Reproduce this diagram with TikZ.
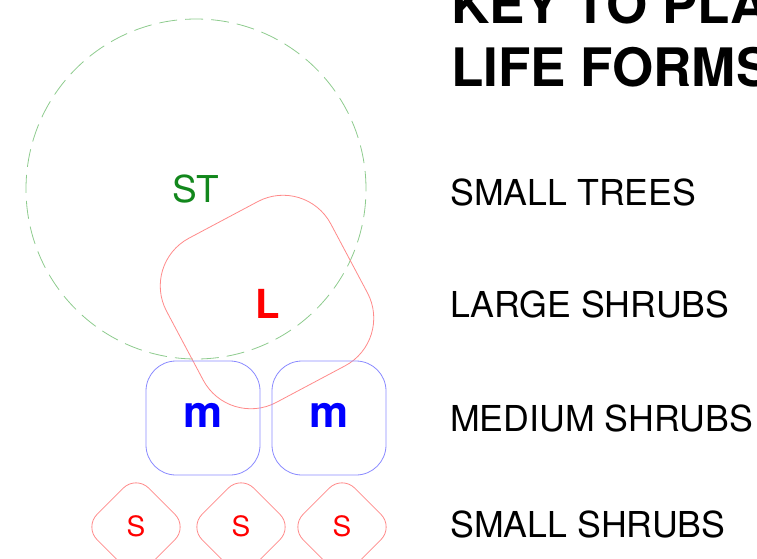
\documentclass[tikz,border=0pt]{standalone}
\usepackage{fontspec}
\setmainfont{TeX Gyre Heros}
\usepackage{xcolor}
\definecolor{treegreen}{HTML}{12871C}
\definecolor{treeline}{HTML}{8DCB8D}
\definecolor{shrubred}{HTML}{FF0000}
\definecolor{redline}{HTML}{FF8A8A}
\definecolor{shrubblue}{HTML}{0000FF}
\definecolor{blueline}{HTML}{8A8AFF}
\tikzset{
  tree/.style={circle, draw=treeline, line width=0.8pt, dash pattern=on 18pt off 8pt, inner sep=0pt, minimum size=340pt},
  large/.style={rectangle, draw=redline, line width=0.8pt, rounded corners=54pt, inner sep=0pt, minimum size=186pt},
  medium/.style={rectangle, draw=blueline, line width=0.8pt, rounded corners=30pt, inner sep=0pt, minimum size=114pt},
  small/.style={rectangle, draw=redline, line width=0.8pt, rounded corners=18pt, inner sep=0pt, minimum size=73pt, rotate=45},
  labst/.style={text=treegreen, inner sep=0pt, font=\fontsize{37}{44}\selectfont},
  labl/.style={text=shrubred, inner sep=0pt, font=\fontsize{40}{48}\selectfont\bfseries},
  labm/.style={text=shrubblue, inner sep=0pt, font=\fontsize{44}{52}\selectfont\bfseries},
  labs/.style={text=shrubred, inner sep=0pt, font=\fontsize{28}{34}\selectfont},
  key/.style={anchor=base west, inner sep=0pt, font=\fontsize{35.7}{43}\selectfont},
  title/.style={anchor=base west, inner sep=0pt, font=\fontsize{53}{63}\selectfont\bfseries},
}

\begin{document}
\begin{tikzpicture}[x=1pt,y=-1pt]
  \useasboundingbox (0,0) rectangle (757,558);

  % plant symbols
  \node[tree] (st) at (196,189) {};
  \node[large, rotate=28] (lbox) at (267,302) {};
  \node[medium] (mboxa) at (203,418) {};
  \node[medium] (mboxb) at (329,418) {};
  \node[small] (sboxa) at (136,527) {};
  \node[small] (sboxb) at (241,527) {};
  \node[small] (sboxc) at (342,527) {};

  \node[labst] (sttext) at (196,189) {ST};
  \node[labl] (ltext) at (268,304) {L};
  \node[labm] (mtexta) at (203,415) {m};
  \node[labm] (mtextb) at (329,415) {m};
  \node[labs] (stexta) at (136,526) {S};
  \node[labs] (stextb) at (241,526) {S};
  \node[labs] (stextc) at (342,526) {S};

  % key (title runs off the right edge, as in the sheet)
  \node[title] (titlea) at (451,23) {KEY TO PLANT};
  \node[title] (titleb) at (451,86) {LIFE FORMS};
  \node[key] (keyst) at (450,205) {SMALL TREES};
  \node[key] (keyl) at (450,317) {LARGE SHRUBS};
  \node[key] (keym) at (450,431) {MEDIUM SHRUBS};
  \node[key] (keys) at (450,537) {SMALL SHRUBS};
\end{tikzpicture}
\end{document}
